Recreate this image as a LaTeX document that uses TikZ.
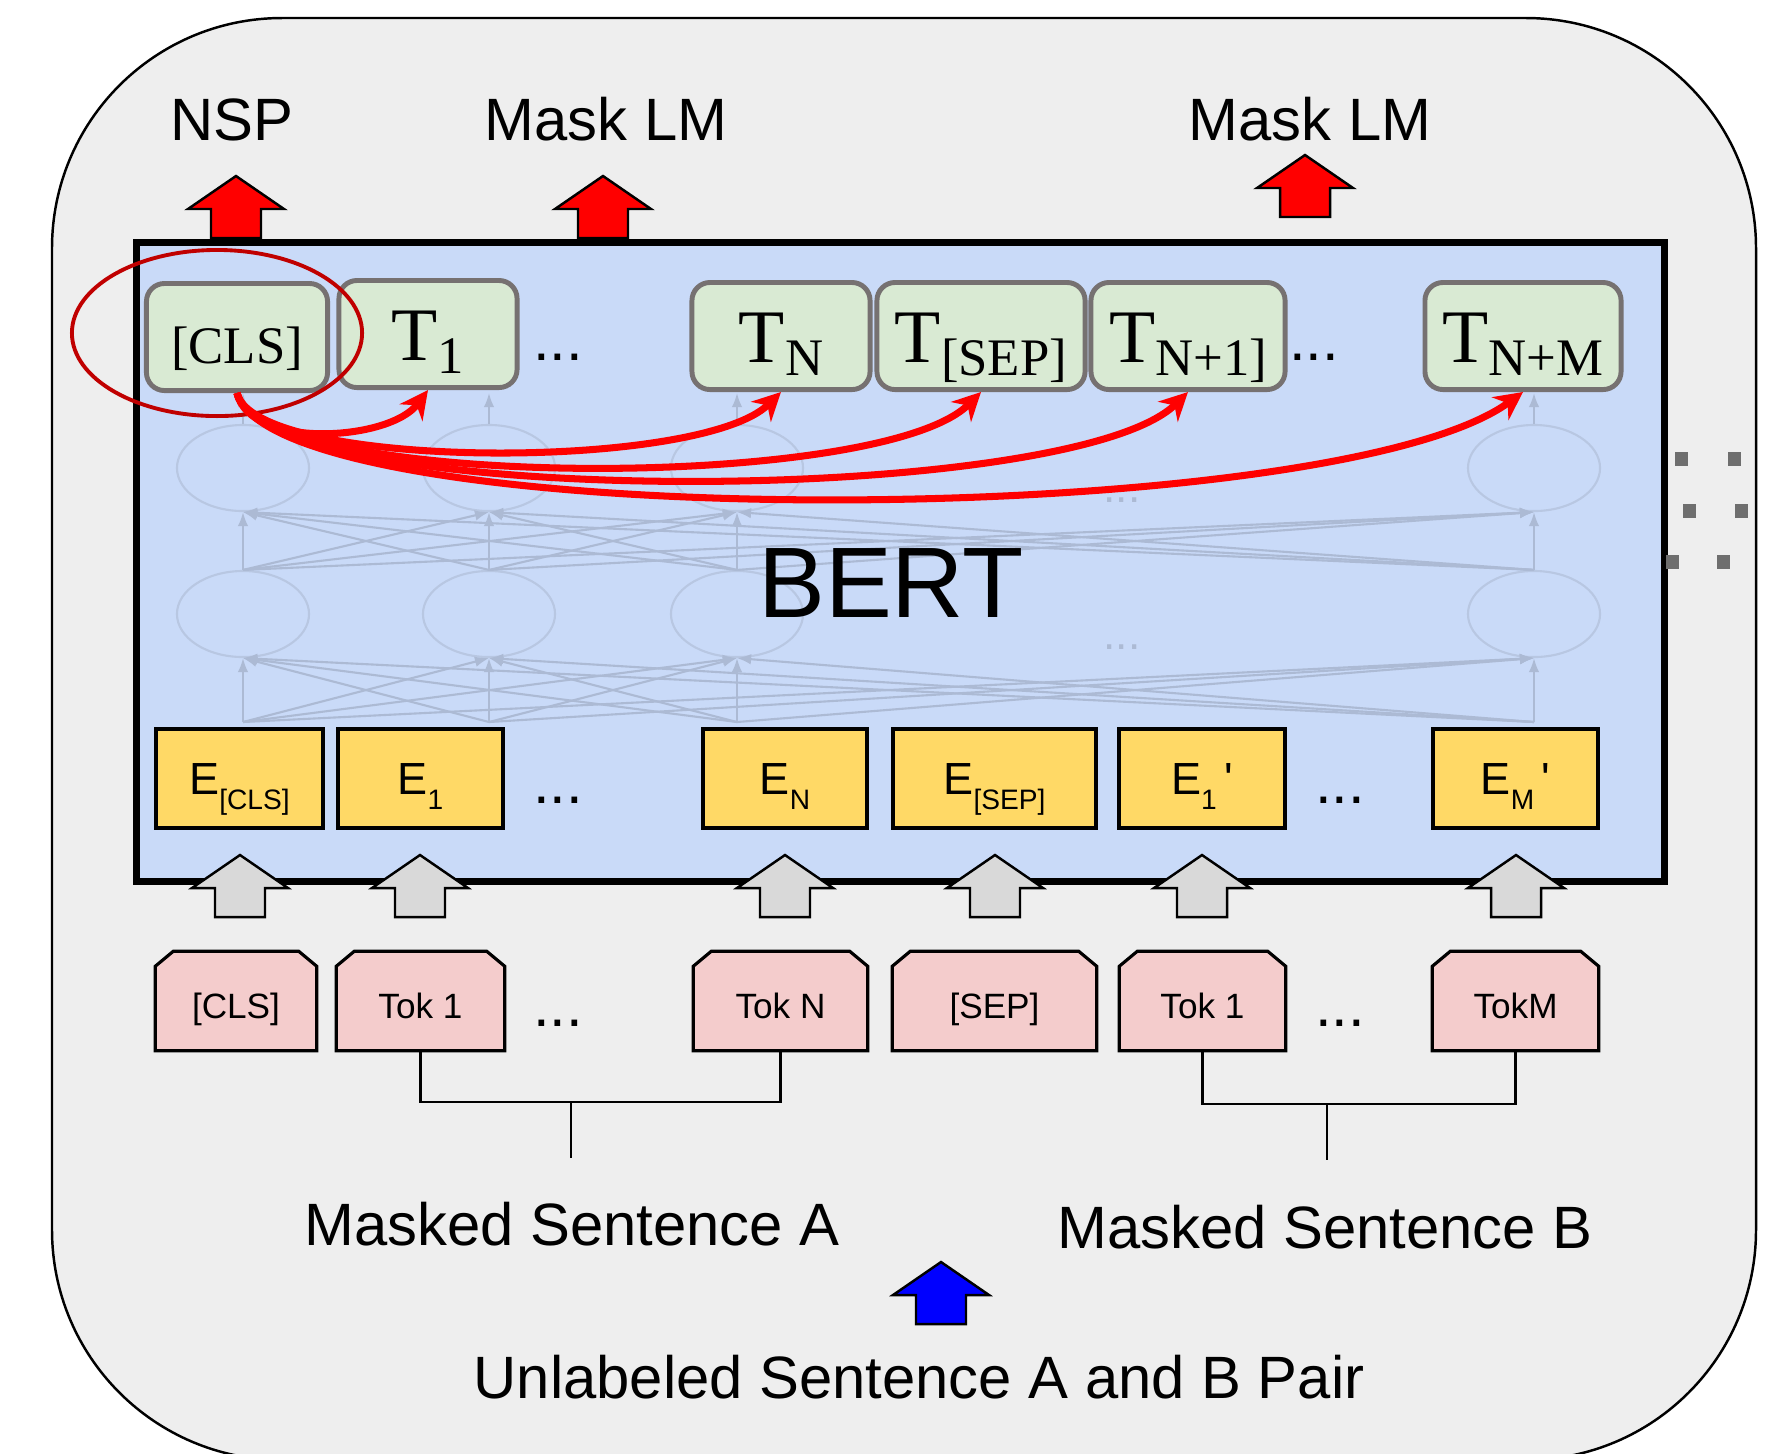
\documentclass[tikz,border=0pt]{standalone}
\usepackage{fontspec}
\setmainfont{Liberation Sans}
\newfontfamily\tfont{Liberation Serif}
\usetikzlibrary{arrows.meta,calc,shapes.geometric}

% subscripts for the box labels
\newcommand{\tsub}[1]{\raisebox{-3.7pt}{\fontsize{15}{16}\selectfont #1}}
\newcommand{\esub}[1]{\raisebox{-4.3pt}{\fontsize{8}{9}\selectfont #1}}

\tikzset{
  pics/blockup/.style={code={
    \path[pic actions] (0,0) -- (48,33) -- (25,33) -- (25,62)
      -- (-25,62) -- (-25,33) -- (-48,33) -- cycle;}}
}

\begin{document}
\begin{tikzpicture}[x=0.01cm, y=-0.01cm,
    lbl/.style={font=\fontsize{17}{20}\selectfont, anchor=base, inner sep=0pt},
    tbox/.style={draw=tgray, fill=tgreen, line width=1.4pt, rounded corners=0.18cm,
      minimum height=1.07cm, inner sep=0pt, text height=14.8pt, text depth=0pt,
      font=\tfont\fontsize{21.5}{24}\selectfont},
    ebox/.style={draw=black, fill=eyellow, line width=0.9pt, minimum height=0.99cm,
      inner sep=0pt, text height=9.2pt, text depth=0pt, font=\fontsize{12.8}{14}\selectfont},
    tokcell/.style={minimum height=0.98cm, inner sep=0pt},
    tokline/.style={draw=black, fill=tpink, line width=0.9pt},
    toktext/.style={font=\fontsize{10}{12}\selectfont, inner sep=0pt, text height=9.7pt, text depth=0pt},
    ellip/.style={font=\fontsize{17}{18}\selectfont, inner sep=0pt},
    netnode/.style={ellipse, draw=netgray!60!bertblue, line width=0.6pt,
      minimum width=1.32cm, minimum height=0.86cm, inner sep=0pt},
    netline/.style={draw=netgray, line width=0.6pt, -{Latex[length=4pt,width=3pt]}},
    nspline/.style={draw=red, line width=2pt, -{Stealth[length=8pt,width=8pt]}},
    bracketline/.style={draw=black, line width=0.6pt},
    blockarrow/.style={draw=black, line width=0.7pt}]
\definecolor{outergray}{RGB}{238,238,238}
\definecolor{bertblue}{RGB}{201,218,248}
\definecolor{tgreen}{RGB}{217,234,211}
\definecolor{tgray}{RGB}{118,113,113}
\definecolor{eyellow}{RGB}{255,217,102}
\definecolor{tpink}{RGB}{244,204,204}
\definecolor{arrgray}{RGB}{217,217,217}
\definecolor{ringred}{RGB}{192,0,0}
\definecolor{netgray}{RGB}{172,186,212}
\definecolor{sqgray}{RGB}{110,110,110}

  \useasboundingbox (0,0) rectangle (1773,1453);

  % outer frame and the BERT block
  \draw[fill=outergray, line width=0.7pt, rounded corners=2.3cm] (52,18) rectangle (1756,1460);
  \node[draw=black, fill=bertblue, line width=2pt, minimum width=15.27cm,
    minimum height=6.38cm, inner sep=0pt] (bert) at (900.5,562) {};

  % faint network inside
  \foreach \x [count=\k] in {243,489,737,1534} {
    \node[netnode] (up\k) at (\x,468) {};
    \node[netnode] (lo\k) at (\x,614) {};
    \coordinate (in\k) at (\x,722);
  }
  \foreach \a in {1,...,4}
    \foreach \b in {1,...,4} {
      \draw[netline] (in\a) -- (lo\b.south);
      \draw[netline] (lo\a.north) -- (up\b.south);
    }
  \node[font=\fontsize{12.6}{14}\selectfont, text=netgray, inner sep=0pt] (nd1) at (1122,500) {...};
  \node[font=\fontsize{12.6}{14}\selectfont, text=netgray, inner sep=0pt] (nd2) at (1122,647) {...};

  \node[font=\fontsize{28.5}{30}\selectfont, anchor=base, inner sep=0pt] (berttxt) at (891,617) {BERT};

  % output row
  \node[tbox, minimum width=1.81cm] (cls) at (237,337) {\fontsize{15}{16}\selectfont [CLS]};
  \node[tbox, minimum width=1.78cm] (t1) at (428,334) {T\tsub{1}};
  \node[tbox, minimum width=1.78cm] (tn) at (781,336) {T\tsub{N}};
  \node[tbox, minimum width=2.08cm] (tsep) at (981,336) {T\tsub{[SEP]}};
  \node[tbox, minimum width=1.94cm] (tn1) at (1188,336) {T\tsub{N+1]}};
  \node[tbox, minimum width=1.96cm] (tnm) at (1523,336) {T\tsub{N+M}};
  \foreach \k in {1,...,4}
    \draw[netline] (up\k.north) -- (up\k.north |- cls.south);
  \node[ellip] (dt1) at (558,357) {...};
  \node[ellip] (dt2) at (1314,357) {...};

  % embeddings
  \node[ebox, minimum width=1.67cm] (ecls) at (239.5,778.5) {E\esub{[CLS]}};
  \node[ebox, minimum width=1.65cm] (e1) at (420.5,778.5) {E\esub{1}};
  \node[ebox, minimum width=1.64cm] (en) at (785,778.5) {E\esub{N}};
  \node[ebox, minimum width=2.03cm] (esep) at (994.5,778.5) {E\esub{[SEP]}};
  \node[ebox, minimum width=1.66cm] (e1b) at (1202,778.5) {E\esub{1}\,\textquotesingle};
  \node[ebox, minimum width=1.65cm] (em) at (1515.5,778.5) {E\esub{M}\,\textquotesingle};
  \node[ellip] (de1) at (558,800) {...};
  \node[ellip] (de2) at (1340,800) {...};

  % NSP ring and the red links
  \node[ellipse, draw=ringred, line width=1.1pt, minimum width=2.9cm,
    minimum height=1.66cm, inner sep=0pt] (clsring) at (217,333) {};
  \foreach \tgt/\a/\b/\c/\d in {t1/13/57/-38/51, tn/18/77/-81/80, tsep/23/97/-101/101,
      tn1/28/117/-118/116, tnm/38/142/-193/141}
    \draw[nspline] (cls.south) .. controls +(\a,\b) and +(\c,\d) .. (\tgt.south);

  % block arrows
  \pic[blockarrow, fill=red] at (236,176) {blockup};
  \pic[blockarrow, fill=red] at (603,176) {blockup};
  \pic[blockarrow, fill=red] at (1305,155) {blockup};
  \foreach \x in {240,420,785,995,1202,1516}
    \pic[blockarrow, fill=arrgray] at (\x,855) {blockup};
  \pic[blockarrow, fill=blue] at (941,1262) {blockup};

  % input tokens
  \foreach \nm/\cx/\w/\txt in {tcls/236/1.60/{[CLS]}, tok1/420.5/1.67/{Tok 1},
      tokn/780.5/1.73/{Tok N}, tsepin/994.5/2.03/{[SEP]}, tok1b/1202.5/1.65/{Tok 1},
      tokm/1515.5/1.65/{TokM}} {
    \path (\cx,1001) node[tokcell, minimum width=\w cm] (\nm) {};
    \draw[tokline] (\nm.south west) -- ($(\nm.north west)+(0,15)$) -- ($(\nm.north west)+(18,0)$)
      -- ($(\nm.north east)+(-18,0)$) -- ($(\nm.north east)+(0,15)$) -- (\nm.south east) -- cycle;
    \node[toktext] (\nm-t) at (\nm) {\txt};
  }
  \node[ellip] (dk1) at (558,1023) {...};
  \node[ellip] (dk2) at (1340,1023) {...};

  % sentence brackets
  \coordinate (forkA) at (571,1102);
  \coordinate (stemA) at (571,1158);
  \coordinate (forkB) at (1327,1104);
  \coordinate (stemB) at (1327,1160);
  \draw[bracketline] (tok1.south) |- (forkA) -| (tokn.south);
  \draw[bracketline] (forkA) -- (stemA);
  \draw[bracketline] (tok1b.south) |- (forkB) -| (tokm.south);
  \draw[bracketline] (forkB) -- (stemB);

  % texts
  \node[lbl] (nsp) at (232,140) {NSP};
  \node[lbl] (mlm1) at (606,140) {Mask LM};
  \node[lbl] (mlm2) at (1310,140) {Mask LM};
  \node[lbl] (sentA) at (572,1245) {Masked Sentence A};
  \node[lbl] (sentB) at (1325,1248) {Masked Sentence B};
  \node[lbl] (pair) at (919,1398) {Unlabeled Sentence A and B Pair};

  % grey marks right of the block
  \foreach \x/\y in {1681/459, 1734/459, 1689/511, 1741/511, 1672/562, 1723/562}
    \fill[sqgray] (\x-6,\y-7) rectangle ++(13,14);
\end{tikzpicture}
\end{document}
